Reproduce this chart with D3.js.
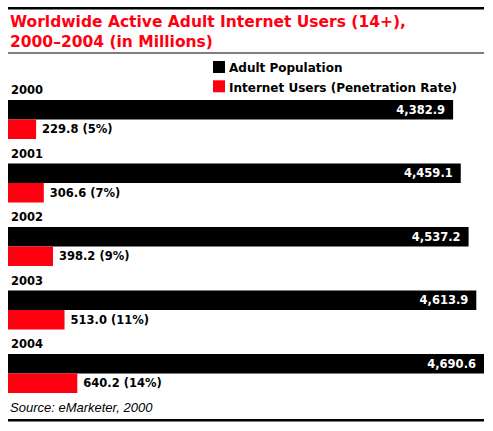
<!DOCTYPE html>
<html>
<meta charset="utf-8">
<head>
    <script src="https://d3js.org/d3.v7.min.js"></script>
</head>

<style>
  body { margin: 0; background: #fff; }
  svg text { font-family: "DejaVu Sans", Verdana, sans-serif; font-weight: bold; }
  svg .title { fill: #ff0010; font-size: 15.5px; }
  svg .year { fill: #000; font-size: 11.5px; }
  svg .legend text { fill: #000; font-size: 12px; }
  svg .pop-label { fill: #fff; font-size: 11.5px; text-anchor: end; }
  svg .user-label { fill: #000; font-size: 11.5px; }
  svg .source { font-family: "Liberation Sans", Arial, sans-serif; font-weight: normal; font-style: italic; font-size: 13px; fill: #000; }
</style>

<body>
    <script>

        var years = ["2000", "2001", "2002", "2003", "2004"];
        var adultPopulation = [4382.9, 4459.1, 4537.2, 4613.9, 4690.6];
        var internetUsers = [229.8, 306.6, 398.2, 513.0, 640.2];
        var penetrationRate = [5, 7, 9, 11, 14];
        var legendLabels = ["Adult Population", "Internet Users (Penetration Rate)"];
        var legendColors = ["#000", "#ff0010"];

        var width = 493,
            height = 431,
            barH = 19.5;

        var svg = d3.select("body").append("svg")
            .attr("width", width)
            .attr("height", height);

        // rules
        svg.append("rect").attr("x", 8).attr("y", 7).attr("width", 476).attr("height", 2.5).attr("fill", "#000");
        svg.append("rect").attr("x", 8).attr("y", 52.5).attr("width", 476).attr("height", 1).attr("fill", "#000");
        svg.append("rect").attr("x", 8).attr("y", 419).attr("width", 476).attr("height", 2.5).attr("fill", "#000");

        svg.append("text").attr("class", "title").attr("x", 10).attr("y", 27.3)
            .text("Worldwide Active Adult Internet Users (14+),");
        svg.append("text").attr("class", "title").attr("x", 10).attr("y", 46.7)
            .text("2000\u20132004 (in Millions)");

        var legend = svg.append("g").attr("class", "legend");
        legendLabels.forEach(function(l, i) {
            legend.append("rect")
                .attr("x", 213).attr("y", 61 + i * 19.3)
                .attr("width", 12).attr("height", 12)
                .attr("fill", legendColors[i]);
            legend.append("text")
                .attr("x", 229).attr("y", 72.3 + i * 19.3)
                .text(l);
        });

        // bars carry a small constant offset in the original, so the domain starts a bit below zero
        var x = d3.scaleLinear()
            .domain([-50, 4690.6])
            .range([8, 484]);

        var y = d3.scaleBand()
            .domain(years)
            .range([100, 100 + years.length * 63.5])
            .padding(0);

        var data = years.map(function(yr, i) {
            return {year: yr, pop: adultPopulation[i], users: internetUsers[i], rate: penetrationRate[i]};
        });

        var groups = svg.selectAll("g.yr")
            .data(data)
            .enter().append("g")
            .attr("class", "yr");

        groups.append("text")
            .attr("class", "year")
            .attr("x", 11)
            .attr("y", function(d) { return y(d.year) - 6; })
            .text(function(d) { return d.year; });

        groups.append("rect")
            .attr("x", x(-50))
            .attr("y", function(d) { return y(d.year); })
            .attr("width", function(d) { return x(d.pop) - x(-50); })
            .attr("height", barH)
            .attr("fill", "#000");

        groups.append("rect")
            .attr("x", x(-50))
            .attr("y", function(d) { return y(d.year) + barH; })
            .attr("width", function(d) { return x(d.users) - x(-50); })
            .attr("height", barH)
            .attr("fill", "#ff0010");

        groups.append("text")
            .attr("class", "pop-label")
            .attr("x", function(d) { return x(d.pop) - 8; })
            .attr("y", function(d) { return y(d.year) + 13.8; })
            .text(function(d) { return d3.format(",.1f")(d.pop); });

        groups.append("text")
            .attr("class", "user-label")
            .attr("x", function(d) { return x(d.users) + 6; })
            .attr("y", function(d) { return y(d.year) + 33.3; })
            .text(function(d) { return d3.format(".1f")(d.users) + " (" + d.rate + "%)"; });

        svg.append("text").attr("class", "source").attr("x", 10).attr("y", 412)
            .text("Source: eMarketer, 2000");
    </script>
</body>
</html>
